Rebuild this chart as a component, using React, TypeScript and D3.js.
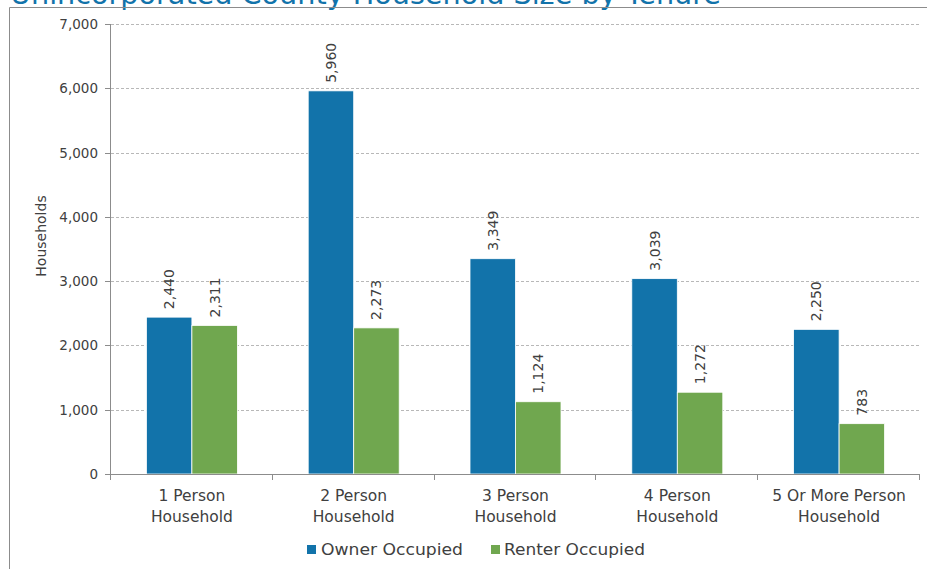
import React from "react";
import * as d3 from "d3";

const catLine1 = ["1 Person", "2 Person", "3 Person", "4 Person", "5 Or More Person"];
const catLine2 = ["Household", "Household", "Household", "Household", "Household"];
const seriesNames = ["Owner Occupied", "Renter Occupied"];
const ownerValues = [2440, 5960, 3349, 3039, 2250];
const renterValues = [2311, 2273, 1124, 1272, 783];
const yTicks = [0, 1000, 2000, 3000, 4000, 5000, 6000, 7000];
const title = "Unincorporated County Household Size by Tenure";
const yTitle = "Households";

const W = 927;
const H = 569;
const colors = ["#1273AA", "#70A74F"];
const textColor = "#404040";
const FONT = "'DejaVu Sans', 'Open Sans', sans-serif";

export default function App() {
  const left = 111;
  const right = 920;
  const top = 24;
  const bottom = 474;
  const x0 = d3.scaleBand<number>().domain(d3.range(catLine1.length)).range([left, right]).padding(0);
  const groupW = 91;
  const x1 = d3.scaleBand<number>().domain([0, 1]).range([0, groupW]).padding(0);
  const y = d3.scaleLinear().domain([0, 7000]).range([bottom, top]);
  const fmt = d3.format(",");
  const series = [ownerValues, renterValues];
  const step = x0.step();

  return (
    <svg width={W} height={H} style={{ position: "absolute", left: 0, top: 0, background: "#fff" }} fontFamily={FONT}>
      <text x={10} y={4} fontSize={28} fill="#1273AA" textLength={711} lengthAdjust="spacingAndGlyphs">
        {title}
      </text>
      {/* chart frame */}
      <path d={`M9.5,${H + 2} V7.5 H${W + 2}`} fill="none" stroke="#8c8c8c" strokeWidth={1} />

      {/* grid */}
      {yTicks.filter((t) => t > 0).map((t) => (
        <line key={t} x1={left} x2={right} y1={Math.round(y(t)) + 0.5} y2={Math.round(y(t)) + 0.5}
          stroke="#b8b8b8" strokeWidth={1} strokeDasharray="3,2" />
      ))}

      {/* bars */}
      {series.map((vals, si) =>
        vals.map((v, ci) => {
          const bx = (x0(ci) as number) + (step - groupW) / 2 + (x1(si) as number);
          return (
            <rect key={`${si}-${ci}`} x={bx} y={y(v)} width={x1.bandwidth()} height={bottom - y(v)}
              fill={colors[si]} stroke="#ffffff" strokeWidth={0.8} />
          );
        })
      )}

      {/* value labels */}
      {series.map((vals, si) =>
        vals.map((v, ci) => {
          const cx = (x0(ci) as number) + (step - groupW) / 2 + (x1(si) as number) + x1.bandwidth() / 2 + 1;
          const ly = y(v) - 8;
          return (
            <text key={`l${si}-${ci}`} transform={`translate(${cx},${ly}) rotate(-90)`} fontSize={14}
              fill={textColor} textAnchor="start" dominantBaseline="middle">
              {fmt(v)}
            </text>
          );
        })
      )}

      {/* y axis */}
      <line x1={left - 0.5} x2={left - 0.5} y1={top} y2={bottom} stroke="#8c8c8c" strokeWidth={1} />
      {yTicks.map((t) => (
        <g key={`yt${t}`}>
          <line x1={left - 6} x2={left} y1={Math.round(y(t)) + 0.5} y2={Math.round(y(t)) + 0.5} stroke="#8c8c8c" />
          <text x={left - 13} y={y(t)} fontSize={13.5} fill={textColor} textAnchor="end" dominantBaseline="central">
            {fmt(t)}
          </text>
        </g>
      ))}
      <text transform={`translate(41,236) rotate(-90)`} fontSize={14} fill={textColor} textAnchor="middle"
        dominantBaseline="central">
        {yTitle}
      </text>

      {/* x axis */}
      <line x1={left - 6} x2={right} y1={bottom + 0.5} y2={bottom + 0.5} stroke="#8c8c8c" strokeWidth={1} />
      {d3.range(catLine1.length + 1).map((i) => {
        const tx = Math.round(left + i * step) - 0.5;
        return <line key={`xt${i}`} x1={tx} x2={tx} y1={bottom} y2={bottom + 6} stroke="#8c8c8c" />;
      })}
      {catLine1.map((c, i) => {
        const cx = (x0(i) as number) + step / 2;
        return (
          <g key={`xl${i}`}>
            <text x={cx} y={501} fontSize={15.5} fill={textColor} textAnchor="middle">{c}</text>
            <text x={cx} y={522} fontSize={15.5} fill={textColor} textAnchor="middle">{catLine2[i]}</text>
          </g>
        );
      })}

      {/* legend */}
      <rect x={307} y={545} width={9} height={9} fill={colors[0]} />
      <text x={321} y={550} fontSize={15.5} fill={textColor} dominantBaseline="central"
        textLength={142} lengthAdjust="spacingAndGlyphs">{seriesNames[0]}</text>
      <rect x={491} y={545} width={9} height={9} fill={colors[1]} />
      <text x={504} y={550} fontSize={15.5} fill={textColor} dominantBaseline="central"
        textLength={141} lengthAdjust="spacingAndGlyphs">{seriesNames[1]}</text>
    </svg>
  );
}
